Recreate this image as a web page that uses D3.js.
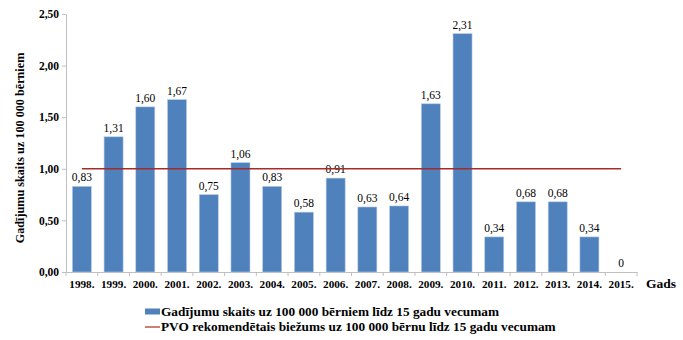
<!DOCTYPE html>
<html><head><meta charset="utf-8">
<script src="https://cdn.jsdelivr.net/npm/d3@7"></script>
</head><body style="margin:0;background:#fff"><svg id="c" width="683" height="340" font-family="Liberation Serif"></svg>
<script>
const years = ["1998.","1999.","2000.","2001.","2002.","2003.","2004.","2005.","2006.","2007.","2008.","2009.","2010.","2011.","2012.","2013.","2014.","2015."];
const rates = [0.83,1.31,1.60,1.67,0.75,1.06,0.83,0.58,0.91,0.63,0.64,1.63,2.31,0.34,0.68,0.68,0.34,0];
const whoRate = years.map(() => 1.0);
const yTicks = [0,0.5,1,1.5,2,2.5];
const seriesNames = ["Gadījumu skaits uz 100 000 bērniem līdz 15 gadu vecumam","PVO rekomendētais biežums uz 100 000 bērnu līdz 15 gadu vecumam"];

const FONT = "Liberation Serif";
const svg = d3.select("#c");
const axFmt = v => d3.format(".2f")(v).replace(".", ",");
const fmt = v => v === 0 ? "0" : axFmt(v);
const x = d3.scaleBand().domain(years).range([66, 637]).paddingInner(0.4).paddingOuter(0.2);
const y = d3.scaleLinear().domain([0, 2.5]).range([272, 14]);

// axes
const ya = svg.append("g").attr("transform","translate(66,0)")
  .call(d3.axisLeft(y).tickValues(yTicks).tickFormat(axFmt).tickSize(4).tickSizeOuter(0));
ya.attr("font-family",FONT);
ya.select(".domain").attr("stroke","#bfbfbf");
ya.selectAll(".tick line").attr("stroke","#bfbfbf");
ya.selectAll("text").attr("font-family",FONT).attr("font-size",11.5).attr("font-weight","bold").attr("fill","#000");

const xa = svg.append("g").attr("transform","translate(0,272)")
  .call(d3.axisBottom(x).tickSize(0).tickSizeOuter(0));
xa.attr("font-family",FONT);
xa.select(".domain").attr("stroke","#bfbfbf");
xa.selectAll(".tick line").remove();
xa.selectAll("text").attr("font-family",FONT).attr("font-size",11.2).attr("font-weight","bold").attr("fill","#000").attr("dy","1.2em");
// boundary ticks between categories
const step = x.step();
svg.append("g").selectAll("line").data(d3.range(years.length + 1)).join("line")
  .attr("x1", i => 66 + i * step).attr("x2", i => 66 + i * step)
  .attr("y1", 272).attr("y2", 276).attr("stroke","#bfbfbf");

// bars
svg.append("g").selectAll("rect").data(rates).join("rect")
  .attr("x",(d,i)=>x(years[i])).attr("width",x.bandwidth())
  .attr("y",d=>y(d)).attr("height",d=>y(0)-y(d))
  .attr("fill","#4f81bd").attr("stroke","#b9cde5").attr("stroke-width",0.6);

// labels
svg.append("g").selectAll("text").data(rates).join("text")
  .attr("x",(d,i)=>x(years[i])+x.bandwidth()/2).attr("y",d=>y(d)-5)
  .attr("text-anchor","middle").attr("font-family",FONT).attr("font-size",11.5).attr("fill","#000").text(fmt);

// WHO line
svg.append("path").datum(whoRate)
  .attr("d", d3.line().x((d,i)=>x(years[i])+x.bandwidth()/2).y(d=>y(d)))
  .attr("fill","none").attr("stroke","#a52a2a").attr("stroke-width",1.5);

// axis titles
svg.append("text").attr("transform","translate(24,148) rotate(-90)").attr("text-anchor","middle")
  .attr("font-family",FONT).attr("font-size",12.2).attr("font-weight","bold").text("Gadījumu skaits uz 100 000 bērniem");
svg.append("text").attr("x",646).attr("y",288).attr("font-family",FONT).attr("font-size",13.5).attr("font-weight","bold").text("Gads");

// legend
const lg = svg.append("g");
lg.append("rect").attr("x",145).attr("y",308.5).attr("width",15).attr("height",6).attr("fill","#4f81bd");
lg.append("text").attr("x",161).attr("y",315.5).attr("font-family",FONT).attr("font-size",13.3).attr("font-weight","bold").text(seriesNames[0]);
lg.append("line").attr("x1",145).attr("x2",160).attr("y1",327).attr("y2",327).attr("stroke","#c0504d").attr("stroke-width",1.5);
lg.append("text").attr("x",161).attr("y",331).attr("font-family",FONT).attr("font-size",13.3).attr("font-weight","bold").text(seriesNames[1]);
</script></body></html>
